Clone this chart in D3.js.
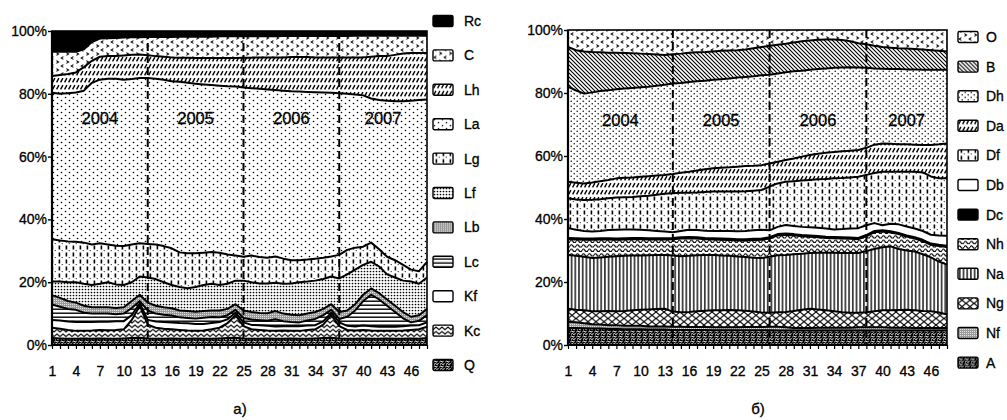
<!DOCTYPE html>
<html>
<head>
<meta charset="utf-8">
<script src="https://cdn.jsdelivr.net/npm/d3@7"></script>
<style>
  body { margin: 0; background: #fff; }
  svg { display: block; }
  text { font-family: "Liberation Sans", Arial, sans-serif; fill: #000; stroke: #000; stroke-width: 0.3px; }
</style>
</head>
<body>
<svg id="chart" width="1007" height="420"></svg>
<script>
// ---- periods (months 1..48) and tick labels ----
const months = d3.range(1, 49);
const xTickLabels = [1, 4, 7, 10, 13, 16, 19, 22, 25, 28, 31, 34, 37, 40, 43, 46];
const yTicks = [0, 20, 40, 60, 80, 100];
const years = ["2004", "2005", "2006", "2007"];
const leftYearBreaks = [1, 13, 25, 37, 48];
const rightYearBreaks = [1, 14, 26, 38, 48];

// ---- panel а): shares, % (stacked bottom to top) ----
const Q  = [2.2,2.1,2.0,2.0,2.1,2.0,2.1,2.0,2.0,2.1,2.2,2.3,2.1,2.0,2.0,2.1,2.0,2.0,2.1,2.0,2.0,2.1,2.2,2.3,2.1,2.0,2.0,2.1,2.0,2.0,2.1,2.0,2.0,2.1,2.2,2.3,2.1,2.0,2.0,2.1,2.0,2.0,2.1,2.0,2.0,2.1,2.0,2.2];
const Kc = [3.3,3.1,2.8,2.5,2.4,2.6,2.7,2.7,2.8,2.9,5.8,10.2,4.4,3.5,3.2,2.9,2.8,2.6,2.4,2.6,3.0,3.4,4.8,7.2,3.9,3.0,2.8,2.5,2.5,2.6,2.4,2.5,2.8,2.9,4.3,7.2,3.9,2.8,2.6,2.7,2.6,2.5,2.4,2.5,2.6,2.7,3.0,3.6];
const Kf = [2.5,2.6,2.7,2.8,2.8,2.7,2.6,2.7,2.8,2.6,1.5,0.8,1.5,2.0,2.1,2.2,2.2,2.3,2.2,2.1,2.0,1.8,1.2,0.8,1.2,1.4,1.5,1.5,1.4,1.4,1.5,1.5,1.4,1.3,1.0,0.8,1.2,1.3,1.3,1.4,1.4,1.3,1.3,1.3,1.4,1.4,1.3,1.4];
const Lc = [4.9,4.4,4.0,3.9,3.0,2.7,2.6,2.6,2.2,2.4,2.3,0.7,3.0,2.5,2.3,2.2,1.8,1.7,1.7,2.0,1.9,1.5,1.3,0.9,1.4,1.7,1.6,1.6,2.3,1.6,1.3,1.2,1.6,2.0,2.0,0.9,1.1,2.9,5.1,7.8,10.0,8.7,6.7,4.7,2.5,1.0,1.4,2.3];
const Lb = [3.0,2.8,2.5,2.3,2.2,2.0,2.0,2.0,2.0,2.0,2.2,2.0,2.5,2.5,2.4,2.3,2.2,2.2,2.2,2.1,2.1,2.2,2.0,1.8,2.4,2.4,2.3,2.4,2.6,2.4,2.3,2.3,2.2,2.2,2.0,1.8,2.2,2.0,2.0,2.0,2.0,2.0,2.0,2.0,2.0,1.8,1.8,2.0];
const Lf = [4.3,5.2,6.0,6.5,7.0,7.1,7.5,8.0,7.5,7.1,6.0,5.8,8.0,8.5,8.0,7.4,7.5,7.3,7.9,8.3,8.5,8.1,8.0,7.5,9.5,9.5,9.4,9.5,9.0,9.5,10.0,10.5,10.2,10.0,9.5,8.8,10.7,11.5,11.0,9.5,8.5,8.5,8.0,9.0,10.0,11.2,10.0,10.0];
const Lg = [13.5,13.1,13.0,12.9,13.1,12.9,12.9,12.0,12.3,12.4,12.0,10.6,10.7,11.0,11.5,11.7,11.0,11.1,10.7,10.3,10.1,10.3,9.3,8.0,7.6,8.5,8.4,8.2,8.4,8.0,7.4,7.0,7.0,7.0,6.8,6.4,7.5,7.8,7.0,5.8,6.1,5.5,5.6,5.5,5.0,3.8,4.0,5.0];
const La = [46.6,46.7,47.2,47.5,48.4,51.5,52.1,52.8,53.2,53.0,52.7,52.6,52.8,52.8,53.0,53.2,54.3,54.3,54.0,53.6,53.2,53.2,53.6,53.8,53.9,53.3,53.6,53.6,53.0,53.5,53.8,53.7,53.4,53.0,52.6,52.1,51.5,49.7,48.8,48.2,45.9,47.5,49.7,50.6,52.1,53.8,54.5,51.7];
const Lh = [5.4,6.0,6.1,6.4,7.5,7.0,7.3,7.2,7.2,7.7,7.7,7.5,7.3,7.2,7.3,7.6,7.7,8.0,8.2,8.4,8.6,8.8,9.0,9.1,9.5,9.7,10.0,10.2,10.4,10.6,10.9,11.0,11.1,11.1,11.2,11.3,11.4,11.6,11.8,12.1,13.3,14.0,14.2,14.8,15.2,15.2,15.0,14.8];
const C  = [7.7,7.4,7.1,6.6,5.7,6.0,5.8,5.7,5.8,5.7,5.6,5.5,5.8,6.1,6.3,6.5,6.7,6.7,6.8,6.8,6.8,6.9,6.9,6.9,6.8,6.8,6.7,6.7,6.7,6.8,6.7,6.7,6.7,6.8,6.8,6.8,6.8,6.8,6.9,6.9,6.7,6.5,6.5,6.1,5.7,5.5,5.5,5.5];
const Rc = [6.6,6.6,6.6,6.6,5.8,3.5,2.4,2.3,2.2,2.1,2.0,2.0,1.9,1.9,1.9,1.9,1.8,1.8,1.8,1.8,1.8,1.7,1.7,1.7,1.7,1.7,1.7,1.7,1.7,1.6,1.6,1.6,1.6,1.6,1.6,1.6,1.6,1.6,1.5,1.5,1.5,1.5,1.5,1.5,1.5,1.5,1.5,1.5];

// ---- panel б): shares, % (stacked bottom to top) ----
const A  = [5.4,5.4,5.3,5.2,5.2,5.1,5.1,5.0,5.0,5.0,4.9,4.9,4.9,4.8,4.8,4.8,4.8,4.8,4.7,4.7,4.7,4.7,4.7,4.7,4.7,4.7,4.6,4.6,4.6,4.6,4.6,4.6,4.6,4.6,4.6,4.6,4.6,4.6,4.6,4.6,4.6,4.6,4.6,4.6,4.6,4.6,4.6,4.6];
const Nf = [2.0,1.8,1.6,1.4,1.3,1.2,1.2,1.1,1.1,1.1,1.0,1.0,1.0,1.0,1.0,0.9,0.9,0.9,0.9,0.9,0.9,0.9,1.0,1.0,1.0,1.1,1.2,1.0,0.8,0.8,0.8,0.9,0.9,0.9,0.9,0.9,1.0,1.0,1.0,1.0,0.9,0.9,0.9,0.8,0.8,0.8,0.8,0.8];
const Ng = [4.1,4.0,4.1,4.1,4.2,4.5,4.4,4.7,4.9,5.1,5.4,5.5,5.6,4.8,4.6,4.8,5.0,5.2,5.4,5.4,5.5,5.4,5.2,4.9,4.6,4.4,4.6,4.9,5.4,5.8,6.1,5.8,5.5,5.2,4.9,4.7,4.6,4.8,5.1,5.4,5.5,5.6,5.7,5.6,5.4,5.3,4.9,4.3];
const Na = [17.1,17.1,17.0,16.9,17.1,17.2,17.5,17.5,17.4,17.2,17.2,17.2,17.1,17.8,17.8,17.8,17.8,17.7,17.6,17.4,17.2,17.1,17.0,17.1,17.3,17.8,18.1,18.1,18.0,17.8,17.7,18.0,18.3,18.6,18.8,19.0,19.0,19.4,19.8,20.0,20.3,19.4,18.8,18.7,18.0,17.1,16.2,15.8];
const Nh = [5.0,5.2,5.4,5.8,5.7,5.5,5.2,5.2,5.2,5.2,5.0,4.9,4.9,5.2,5.6,5.6,5.3,5.0,4.9,5.0,5.0,5.1,5.3,5.6,5.8,5.8,6.3,6.4,6.0,5.5,5.2,4.9,4.7,4.6,4.6,4.5,4.4,4.7,5.3,5.0,4.4,4.7,4.4,4.1,4.2,4.0,4.9,5.6];
const Dc = [0.4,0.4,0.4,0.4,0.4,0.4,0.4,0.4,0.4,0.4,0.4,0.4,0.4,0.4,0.4,0.4,0.4,0.4,0.4,0.4,0.4,0.4,0.4,0.4,0.4,0.4,0.4,0.4,0.4,0.4,0.4,0.4,0.4,0.4,0.4,0.4,0.4,0.4,0.4,0.4,0.4,0.4,0.4,0.4,0.4,0.4,0.4,0.4];
const Db = [3.1,2.7,2.4,2.2,2.3,2.6,2.8,2.8,2.7,2.6,2.5,2.3,2.1,1.8,2.0,2.3,2.3,2.3,2.3,2.4,2.5,2.5,2.6,2.7,2.8,2.2,2.3,2.7,2.6,2.6,2.6,2.6,2.6,2.4,2.6,2.9,3.1,3.1,2.5,1.6,2.4,2.7,2.8,2.8,2.8,2.8,3.0,3.2];
const Df = [9.5,9.6,9.8,10.1,10.1,10.1,10.2,10.2,10.3,10.6,11.0,11.5,12.0,12.4,12.1,11.7,11.9,12.3,12.5,12.5,12.5,12.6,12.6,12.6,12.6,13.9,13.8,13.7,14.2,14.7,15.0,15.4,15.7,16.2,16.2,16.2,16.3,16.0,15.9,17.0,16.5,16.7,17.4,18.0,18.6,18.5,18.1,18.2];
const Da = [5.2,5.3,5.3,5.5,5.7,5.8,6.1,6.2,6.2,6.2,6.2,6.1,6.0,6.1,6.4,6.7,7.0,7.2,7.4,7.6,7.7,7.9,8.0,7.9,7.9,7.3,6.9,6.9,7.2,7.6,7.9,8.1,8.3,8.4,8.5,8.5,8.5,8.6,9.0,9.0,8.9,8.7,8.7,8.6,8.7,10.0,10.8,11.1];
const Dh = [30.2,29.3,28.5,28.6,28.6,28.5,28.3,28.3,28.4,28.4,28.4,28.5,28.6,28.7,28.5,28.5,28.3,28.1,28.1,28.1,28.2,28.3,28.3,28.4,28.5,28.2,28.0,27.9,27.7,27.3,27.1,26.9,26.8,26.7,26.6,26.5,26.2,25.4,24.2,23.7,23.7,23.9,23.8,23.9,23.9,23.9,23.7,23.4];
const B  = [12.6,12.8,13.4,12.8,12.3,11.9,11.6,11.3,11.0,10.7,10.4,9.9,9.5,9.3,9.3,9.3,9.2,9.1,9.0,9.0,8.9,8.7,8.7,8.9,9.0,9.2,9.1,9.0,9.1,9.3,9.3,9.3,9.2,9.0,8.7,8.2,7.7,7.5,7.2,6.9,6.8,6.6,6.6,6.5,6.4,6.2,6.0,5.8];
const O  = [5.4,6.4,6.8,7.0,7.1,7.2,7.2,7.3,7.4,7.5,7.6,7.8,7.9,7.7,7.5,7.2,7.1,7.0,6.8,6.6,6.5,6.4,6.2,5.8,5.4,5.0,4.7,4.4,4.0,3.6,3.3,3.1,3.0,3.0,3.2,3.6,4.2,4.5,5.0,5.4,5.6,5.8,5.9,6.0,6.2,6.4,6.6,6.8];

const leftKeys  = ["Q", "Kc", "Kf", "Lc", "Lb", "Lf", "Lg", "La", "Lh", "C", "Rc"];
const leftSeries = { Q, Kc, Kf, Lc, Lb, Lf, Lg, La, Lh, C, Rc };
const leftFills = { Q: "mottle", Kc: "zigzag", Kf: "white", Lc: "hlines", Lb: "gray",
                    Lf: "fine", Lg: "vdash", La: "dots", Lh: "hatchF", C: "chev", Rc: "solid" };

const rightKeys = ["A", "Nf", "Ng", "Na", "Nh", "Dc", "Db", "Df", "Da", "Dh", "B", "O"];
const rightSeries = { A, Nf, Ng, Na, Nh, Dc, Db, Df, Da, Dh, B, O };
const rightFills = { A: "mottle", Nf: "gray", Ng: "cross", Na: "vlines", Nh: "wavy", Dc: "solid",
                     Db: "white", Df: "vdash", Da: "hatchF", Dh: "dotsDense", B: "hatchB", O: "chev" };

const svg = d3.select("#chart");
const defs = svg.append("defs");

// ---- hatch / texture definitions ----
function pattern(id, w, h, build) {
  const p = defs.append("pattern").attr("id", id)
    .attr("patternUnits", "userSpaceOnUse").attr("width", w).attr("height", h);
  p.append("rect").attr("width", w).attr("height", h).attr("fill", "#fff");
  build(p);
}
const ink = "#000";
pattern("chev", 10, 8, p => {
  p.append("path").attr("d", "M3.4,0.6 L1.2,2 L3.4,3.4").attr("fill", "none").attr("stroke", ink).attr("stroke-width", 1.1);
  p.append("path").attr("d", "M6.4,4.6 L8.6,6 L6.4,7.4").attr("fill", "none").attr("stroke", ink).attr("stroke-width", 1.1);
});
pattern("hatchF", 4, 7, p => {
  p.append("path").attr("d", "M0.6,5.4 L2.9,1.2").attr("stroke", ink).attr("stroke-width", 1.4);
});
pattern("hatchB", 4, 4, p => {
  p.append("path").attr("d", "M0,0 L4,4 M-1,3 L1,5 M3,-1 L5,1").attr("stroke", ink).attr("stroke-width", 1.1);
});
pattern("dots", 8, 6, p => {
  p.append("circle").attr("cx", 1.5).attr("cy", 1.5).attr("r", 0.8).attr("fill", ink);
  p.append("circle").attr("cx", 5.5).attr("cy", 4.5).attr("r", 0.8).attr("fill", ink);
});
pattern("dotsDense", 6, 5, p => {
  p.append("circle").attr("cx", 1.2).attr("cy", 1.2).attr("r", 0.75).attr("fill", ink);
  p.append("circle").attr("cx", 4.2).attr("cy", 3.7).attr("r", 0.75).attr("fill", ink);
});
pattern("vdash", 7, 7, p => {
  p.append("rect").attr("x", 2.6).attr("y", 0.5).attr("width", 1.6).attr("height", 4).attr("fill", ink);
  p.append("circle").attr("cx", 6.2).attr("cy", 5.6).attr("r", 0.6).attr("fill", ink);
});
pattern("fine", 3, 3, p => {
  p.append("circle").attr("cx", 1.5).attr("cy", 1.5).attr("r", 0.85).attr("fill", ink);
});
pattern("gray", 2, 2, p => {
  p.select("rect").attr("fill", "#9a9a9a");
  p.append("rect").attr("width", 1).attr("height", 1).attr("fill", "#e2e2e2");
});
pattern("hlines", 4, 4, p => {
  p.append("path").attr("d", "M0,1.2 L4,1.2").attr("stroke", ink).attr("stroke-width", 1.4);
});
pattern("white", 4, 4, () => {});
pattern("zigzag", 6, 4.5, p => {
  p.append("path").attr("d", "M-1.5,2.5 L0,3.6 L3,1 L6,3.6 L7.5,2.5").attr("fill", "none").attr("stroke", ink).attr("stroke-width", 1.2);
});
pattern("wavy", 6, 4.5, p => {
  p.append("path").attr("d", "M0,3 Q1.5,0.4 3,3 T6,3").attr("fill", "none").attr("stroke", ink).attr("stroke-width", 1.2);
});
pattern("mottle", 6, 5, p => {
  p.select("rect").attr("fill", ink);
  p.append("path").attr("d", "M0.4,2 L1.8,0.9 L3,2.2 L4.6,1.2 M1,4.4 L2.4,3.5 L3.8,4.5 L5.6,3.6")
    .attr("fill", "none").attr("stroke", "#fff").attr("stroke-width", 1);
});
pattern("cross", 8, 6.5, p => {
  p.append("path").attr("d", "M0,0 L8,6.5 M8,0 L0,6.5").attr("stroke", ink).attr("stroke-width", 1.15);
});
pattern("vlines", 3.7, 4, p => {
  p.append("path").attr("d", "M1.8,0 L1.8,4").attr("stroke", ink).attr("stroke-width", 1.35);
});

function fillOf(name) { return name === "solid" ? ink : `url(#${name})`; }

// ---- one 100 % stacked panel ----
function drawPanel(cfg) {
  const rows = months.map((m, i) => {
    const r = { month: m };
    cfg.keys.forEach(k => { r[k] = cfg.series[k][i]; });
    return r;
  });
  const stack = d3.stack().keys(cfg.keys).offset(d3.stackOffsetExpand);
  const layers = stack(rows);

  const x = d3.scaleLinear().domain([1, 48]).range([cfg.x0, cfg.x1]);
  const y = d3.scaleLinear().domain([0, 1]).range([cfg.y0, cfg.y1]);
  const g = svg.append("g");

  const area = d3.area().x(d => x(d.data.month)).y0(d => y(d[0])).y1(d => y(d[1]));
  const topLine = d3.line().x(d => x(d.data.month)).y(d => y(d[1]));

  g.selectAll("path.layer").data(layers).join("path")
    .attr("class", "layer")
    .attr("d", area)
    .attr("fill", d => fillOf(cfg.fills[d.key]))
    .attr("stroke", "none");

  g.selectAll("path.edge").data(layers.slice(0, -1)).join("path")
    .attr("class", "edge")
    .attr("d", topLine)
    .attr("fill", "none")
    .attr("stroke", ink)
    .attr("stroke-width", 2)
    .attr("stroke-linejoin", "round");

  // year separators
  g.selectAll("line.year").data(cfg.breaks.slice(1, -1)).join("line")
    .attr("class", "year")
    .attr("x1", d => x(d)).attr("x2", d => x(d))
    .attr("y1", y(1)).attr("y2", y(0))
    .attr("stroke", ink).attr("stroke-width", 2).attr("stroke-dasharray", "8,4");

  // year captions
  g.selectAll("text.year").data(years).join("text")
    .attr("class", "year")
    .attr("x", (d, i) => x((cfg.breaks[i] + cfg.breaks[i + 1]) / 2))
    .attr("y", cfg.yearY)
    .attr("text-anchor", "middle")
    .attr("font-size", 16.5)
    .text(d => d);

  // frame
  g.append("rect")
    .attr("x", cfg.x0).attr("y", cfg.y1)
    .attr("width", cfg.x1 - cfg.x0).attr("height", cfg.y0 - cfg.y1)
    .attr("fill", "none").attr("stroke", ink).attr("stroke-width", 1.6);
  g.append("line").attr("x1", cfg.x0).attr("x2", cfg.x0).attr("y1", cfg.y1).attr("y2", cfg.y0)
    .attr("stroke", ink).attr("stroke-width", 2.2);
  g.append("line").attr("x1", cfg.x0).attr("x2", cfg.x1).attr("y1", cfg.y0).attr("y2", cfg.y0)
    .attr("stroke", ink).attr("stroke-width", 2.2);

  // axes
  const xAxis = d3.axisBottom(x).tickValues(months).tickSize(4).tickPadding(17)
    .tickFormat(d => xTickLabels.includes(d) ? String(d) : "");
  const gx = g.append("g").attr("transform", `translate(0,${cfg.y0})`).call(xAxis);
  gx.select(".domain").remove();
  gx.selectAll(".tick line").attr("stroke", ink).attr("stroke-width", 1.2);
  gx.selectAll(".tick text").attr("font-size", 14).attr("font-family", '"Liberation Sans", Arial, sans-serif').attr("fill", ink);

  const yAxis = d3.axisLeft(y).tickValues(yTicks.map(v => v / 100)).tickSize(4).tickPadding(1)
    .tickFormat(d => Math.round(d * 100) + "%");
  const gy = g.append("g").attr("transform", `translate(${cfg.x0},0)`).call(yAxis);
  gy.select(".domain").remove();
  gy.selectAll(".tick line").attr("stroke", ink).attr("stroke-width", 1.4);
  gy.selectAll(".tick text").attr("font-size", 14).attr("font-family", '"Liberation Sans", Arial, sans-serif').attr("fill", ink);

  // legend, top entry first
  const legendKeys = cfg.keys.slice().reverse();
  const lg = g.append("g");
  const item = lg.selectAll("g").data(legendKeys).join("g")
    .attr("transform", (d, i) => `translate(${cfg.legendX},${cfg.legendY + i * cfg.legendStep})`);
  item.append("rect")
    .attr("x", 0).attr("y", -5.5).attr("width", 20).attr("height", 11).attr("rx", 1.5)
    .attr("fill", d => fillOf(cfg.fills[d]))
    .attr("stroke", ink).attr("stroke-width", 1.4);
  item.append("text")
    .attr("x", cfg.legendTextDx).attr("y", 5)
    .attr("font-size", 14)
    .text(d => d);

  // panel caption
  g.append("text")
    .attr("x", cfg.captionX).attr("y", 414)
    .attr("text-anchor", "middle").attr("font-size", 15)
    .text(cfg.caption);
}

drawPanel({
  keys: leftKeys, series: leftSeries, fills: leftFills,
  x0: 52, x1: 427, y0: 345, y1: 31,
  breaks: leftYearBreaks, yearY: 124,
  legendX: 433, legendY: 21, legendStep: 34.4, legendTextDx: 31,
  captionX: 240, caption: "а)"
});

drawPanel({
  keys: rightKeys, series: rightSeries, fills: rightFills,
  x0: 568, x1: 947, y0: 345, y1: 30,
  breaks: rightYearBreaks, yearY: 126,
  legendX: 958, legendY: 37, legendStep: 29.6, legendTextDx: 28,
  captionX: 758, caption: "б)"
});
</script>
</body>
</html>
